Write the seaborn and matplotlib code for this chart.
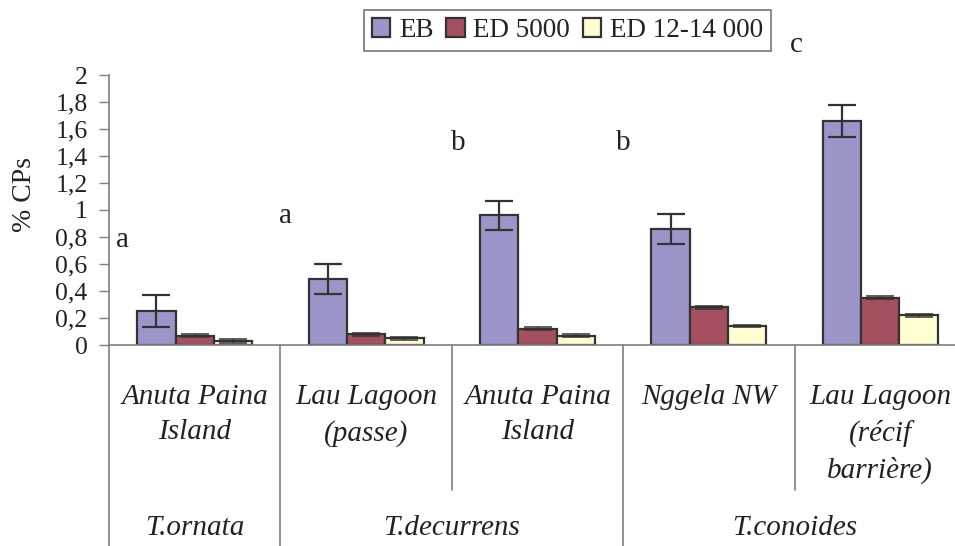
import matplotlib
matplotlib.use("Agg")
import matplotlib.pyplot as plt
import matplotlib.transforms as mtransforms
from matplotlib.patches import Patch
import seaborn as sns
import pandas as pd

# ---- data ----
sites = ["Anuta Paina\nIsland", "Lau Lagoon\n(passe)", "Anuta Paina\nIsland ",
         "Nggela NW", "Lau Lagoon\n(récif\nbarrière)"]
species = ["T.ornata", "T.decurrens", "T.conoides"]
species_span = [(0, 0), (1, 2), (3, 4)]
series = ["EB", "ED 5000", "ED 12-14 000"]
eb = [0.25, 0.49, 0.96, 0.86, 1.66]
eb_err = [0.12, 0.11, 0.11, 0.11, 0.12]
ed5000 = [0.07, 0.08, 0.12, 0.28, 0.35]
ed5000_err = [0.01, 0.01, 0.01, 0.01, 0.01]
ed12 = [0.03, 0.05, 0.07, 0.14, 0.22]
ed12_err = [0.012, 0.01, 0.01, 0.01, 0.01]
letters = ["a", "a", "b", "b", "c"]
letter_x = [-0.42, 0.53, 1.535, 2.50, 3.51]
letter_y = [0.78, 0.955, 1.50, 1.50, 2.22]
yticks = [0, 0.2, 0.4, 0.6, 0.8, 1, 1.2, 1.4, 1.6, 1.8, 2]
yticklabels = ["0", "0,2", "0,4", "0,6", "0,8", "1", "1,2", "1,4", "1,6", "1,8", "2"]
colors = ["#9b95c9", "#a5505f", "#ffffd2"]

rows = []
for i, s in enumerate(sites):
    for name, vals, errs in [("EB", eb, eb_err), ("ED 5000", ed5000, ed5000_err),
                             ("ED 12-14 000", ed12, ed12_err)]:
        rows.append({"site": s, "series": name, "value": vals[i], "err": errs[i]})
df = pd.DataFrame(rows)

sns.set_theme(style="white")
plt.rcParams["font.family"] = ["Liberation Serif", "DejaVu Serif"]
plt.rcParams["font.size"] = 21
txtc = "#222222"
gray = "#7f7f7f"

fig = plt.figure(figsize=(9.55, 5.46), dpi=100)
W, H = 955, 546
ax = fig.add_axes([109 / W, (H - 345) / H, 857 / W, 270 / H])

sns.barplot(data=df, x="site", y="value", hue="series", order=sites,
            hue_order=series, palette=colors, width=0.67, gap=0,
            errorbar=None, edgecolor="#333333", linewidth=1.6,
            saturation=1, legend=False, ax=ax)

# error bars at the patch centres
patches = list(ax.patches)[: len(sites) * len(series)]
for k, name in enumerate(series):
    sub = df[df["series"] == name].set_index("site").loc[sites]
    ps = patches[k * len(sites):(k + 1) * len(sites)]
    xs = [p.get_x() + p.get_width() / 2 for p in ps]
    lw = 1.6 if k == 0 else 1.1
    ax.errorbar(xs, sub["value"].values, yerr=sub["err"].values, fmt="none",
                ecolor="#333333", elinewidth=lw, capsize=10,
                capthick=lw, zorder=5)

ax.set_xlim(-0.5, len(sites) - 0.5)
ax.set_ylim(0, 2)
ax.set_yticks(yticks)
ax.set_yticklabels(yticklabels, color=txtc, fontsize=18.5)
ax.tick_params(axis="y", direction="out", length=7.5, width=1, color=gray, pad=8, left=True)
ax.set_xticks([])
ax.set_xlabel("")
ax.set_ylabel("% CPs", color=txtc, fontsize=20)
ax.yaxis.set_label_coords(-0.084, 0.556)
for sp in ["top", "right"]:
    ax.spines[sp].set_visible(False)
for sp in ["left", "bottom"]:
    ax.spines[sp].set_color(gray)
    ax.spines[sp].set_linewidth(1.2)

trans = mtransforms.blended_transform_factory(ax.transData, ax.transAxes)

# dividers
species_bounds = set()
for a, b in species_span:
    species_bounds.add(a - 0.5)
    species_bounds.add(b + 0.5)
for i in range(len(sites) + 1):
    xb = i - 0.5
    ylow = -0.75 if xb in species_bounds else -0.537
    ax.plot([xb, xb], [0, ylow], transform=trans, color=gray, lw=1.2, clip_on=False)

# site labels
for i, s in enumerate(sites):
    ax.text(i, -0.146, s.strip(), transform=trans, ha="center", va="top",
            style="italic", color=txtc, fontsize=21, linespacing=1.45)

# species labels
for sname, (a, b) in zip(species, species_span):
    ax.text((a + b) / 2, -0.677, sname, transform=trans, ha="center", va="center",
            style="italic", color=txtc, fontsize=21)

# significance letters
for l, lx, ly in zip(letters, letter_x, letter_y):
    ax.text(lx, ly, l, ha="center", va="center", color=txtc, fontsize=21, clip_on=False)

# legend
handles = [Patch(facecolor=c, edgecolor="#333333", linewidth=1.6) for c in colors]
leg = fig.legend(handles, series, loc="center", bbox_to_anchor=(567.5 / W, 1 - 30.5 / H),
                 ncol=3, frameon=True, fancybox=False, edgecolor="#555555",
                 handlelength=0.68, handleheight=0.68, handletextpad=0.32,
                 columnspacing=0.47, borderpad=0.3, borderaxespad=0, fontsize=19.5)
leg.get_frame().set_linewidth(1.2)
for t in leg.get_texts():
    t.set_color(txtc)

fig.savefig("out.png", dpi=100)
